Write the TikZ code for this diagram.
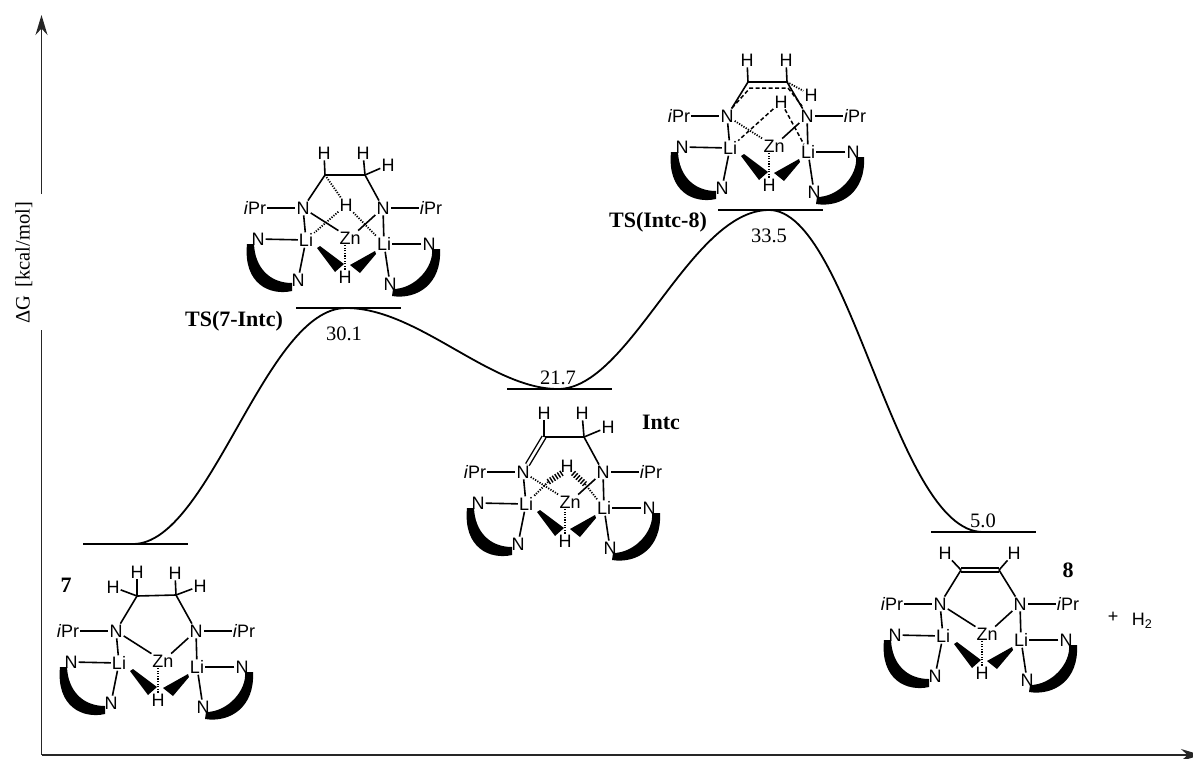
\documentclass[tikz,border=0pt]{standalone}
\usepackage{fontspec}
\setmainfont{Liberation Sans}
\newfontfamily\labelfont{Liberation Serif}
\usepackage{tikz}
\usetikzlibrary{arrows.meta}
\tikzset{
  atom/.style={font=\fontsize{18}{18}\selectfont, inner sep=1pt},
  energy/.style={font=\labelfont\fontsize{20.5}{20.5}\selectfont, inner sep=0pt},
  tag/.style={font=\labelfont\bfseries\fontsize{22}{22}\selectfont, inner sep=0pt},
  bond/.style={line width=1.6pt},
  dblbond/.style={line width=1.4pt, double, double distance=2.6pt},
  hbond/.style={line width=1.8pt, dash pattern=on 1.2pt off 1.4pt},
  dashb/.style={line width=1.5pt, dash pattern=on 4pt off 2.5pt},
  hashb/.style={line width=6pt, dash pattern=on 1.4pt off 1.6pt},
  levelbar/.style={draw=none, fill=black, minimum width=105pt, minimum height=1.6pt, inner sep=0pt},
  profile/.style={line width=1.8pt},
  axisline/.style={line width=1.6pt, color=black!85},
  axistip/.style={-{Stealth[length=20pt, width=12pt]}},
}
% Zn core shared by all five structures, Zn at the local origin
\newcommand{\zncore}[1]{%
  \node[atom] (#1Zn) at (0,0) {Zn};
  \node[atom] (#1NL) at (-47,-30) {N};
  \node[atom] (#1NR) at (33,-30) {N};
  \node[atom] (#1LiL) at (-44,2) {Li};
  \node[atom] (#1LiR) at (34,6) {Li};
  \node[atom] (#1NoL) at (-92,1) {N};
  \node[atom] (#1NuL) at (-52,42) {N};
  \node[atom] (#1NoR) at (79,6) {N};
  \node[atom] (#1NuR) at (40,46) {N};
  \node[atom] (#1Hb) at (-5,39) {H};
  \node[atom] (#1iL) at (-95,-30) {\textit{i}Pr};
  \node[atom] (#1iR) at (81,-30) {\textit{i}Pr};
  \draw[bond] (#1iL) -- (#1NL);
  \draw[bond] (#1iR) -- (#1NR);
  \draw[bond] (#1NL) -- (#1LiL);
  \draw[bond] (#1NR) -- (#1LiR);
  \draw[bond] (#1NoL) -- (#1LiL);
  \draw[bond] (#1NuL) -- (#1LiL);
  \draw[bond] (#1NoR) -- (#1LiR);
  \draw[bond] (#1NuR) -- (#1LiR);
  \draw[hbond] (#1Hb.north) -- (#1Hb.north |- #1Zn.south);
  \fill (-33,10) -- (-30,8) -- (-6,26) -- (-15,34) -- cycle;
  \fill (25,13) -- (26,16) -- (10,35) -- (0,27) -- cycle;
  \fill (-103,6) .. controls (-107,46) and (-80,58) .. (-58,53) -- (-58,45) .. controls (-80,45) and (-95,30) .. (-96,6) -- cycle;
  \fill (42,58) .. controls (67,62) and (92,46) .. (90,11) -- (82,11) .. controls (84,29) and (65,51) .. (43,51) -- cycle;
}
\begin{document}
\begin{tikzpicture}[x=1pt, y=-1pt]
  \useasboundingbox (0,0) rectangle (1193,758);
  % axes
  \node[font=\labelfont\fontsize{20.5}{20.5}\selectfont, rotate=90, inner sep=0pt] (ylab) at (24,263) {ΔG\, [kcal/mol]};
  \coordinate (orig) at (41.5,755);
  \coordinate (ybrk) at (41.5,330);
  \coordinate (yres) at (41.5,194);
  \coordinate (ytop) at (41.5,15);
  \coordinate (xend) at (1201,755);
  \draw[axisline] (ybrk) -- (orig);
  \draw[axisline, axistip] (orig) -- (xend);
  \draw[axisline, axistip] (yres) -- (ytop);

  % levels and profile
  \node[levelbar] (lv7) at (135.5,544) {};
  \node[levelbar] (lvA) at (348.5,308) {};
  \node[levelbar] (lvI) at (559.5,389) {};
  \node[levelbar] (lvB) at (770.5,210) {};
  \node[levelbar] (lv8) at (983.5,532) {};
  \draw[profile] (133,544) .. controls +(77,0) and +(-81,0) .. (346,308)
    .. controls +(72,0) and +(-68,0) .. (558,389)
    .. controls +(72,0) and +(-79,0) .. (769,210)
    .. controls +(81,0) and +(-88,0) .. (983,532);
  \node[energy] (e1) at (344,334) {30.1};
  \node[energy] (e2) at (558,378) {21.7};
  \node[energy] (e3) at (769,236) {33.5};
  \node[energy] (e4) at (983,521) {5.0};
  \node[tag] (t1) at (234,321) {TS(7-Intc)};
  \node[tag] (t2) at (658,222) {TS(Intc-8)};
  \node[tag] (t3) at (661,422) {Intc};
  \node[tag] (t4) at (66,585) {7};
  \node[tag] (t5) at (1068,570) {8};
  \node[atom] (plus) at (1113,617) {+};
  \node[atom] (dihyd) at (1142,621) {H\textsubscript{2}};

  % 7
  \begin{scope}[shift={(163,661)}]
    \zncore{a}
    \coordinate (aCL) at (-26,-65);
    \coordinate (aCR) at (13,-66);
    \node[atom] (aH1) at (-26,-89) {H};
    \node[atom] (aH2) at (-50,-74) {H};
    \node[atom] (aH3) at (12,-88) {H};
    \node[atom] (aH4) at (37,-75) {H};
    \draw[bond] (aCL) -- (aCR);
    \draw[bond] (aNL) -- (aCL);
    \draw[bond] (aNR) -- (aCR);
    \draw[bond] (aCL) -- (aH1);
    \draw[bond] (aCL) -- (aH2);
    \draw[bond] (aCR) -- (aH3);
    \draw[bond] (aCR) -- (aH4);
    \draw[bond] (aNL) -- (aZn);
    \draw[bond] (aNR) -- (aZn);
  \end{scope}

  % TS(7-Intc)
  \begin{scope}[shift={(350,238)}]
    \zncore{b}
    \coordinate (bCL) at (-25,-63);
    \coordinate (bCR) at (15,-63);
    \node[atom] (bH1) at (-26,-85) {H};
    \node[atom] (bH3) at (13,-85) {H};
    \node[atom] (bH4) at (38,-73) {H};
    \node[atom] (bHm) at (-4,-33) {H};
    \draw[bond] (bCL) -- (bCR);
    \draw[bond] (bNL) -- (bCL);
    \draw[bond] (bNR) -- (bCR);
    \draw[bond] (bCL) -- (bH1);
    \draw[bond] (bCR) -- (bH3);
    \draw[bond] (bCR) -- (bH4);
    \draw[bond] (bNL) -- (bZn);
    \draw[bond] (bNR) -- (bZn);
    \draw[hbond] (bCL) -- (bHm);
    \draw[hbond] (bHm) -- (bLiL);
    \draw[hbond] (bHm) -- (bLiR);
  \end{scope}

  % Intc
  \begin{scope}[shift={(570,502)}]
    \zncore{c}
    \coordinate (cCL) at (-26,-65);
    \coordinate (cCR) at (14,-65);
    \node[atom] (cH1) at (-26,-89) {H};
    \node[atom] (cH3) at (12,-89) {H};
    \node[atom] (cH4) at (38,-75) {H};
    \node[atom] (cHm) at (-3,-36) {H};
    \coordinate (cSL) at (-8,-29);
    \coordinate (cTL) at (-22,-20);
    \coordinate (cSR) at (3,-29);
    \coordinate (cTR) at (15,-18);
    \draw[bond] (cCL) -- (cCR);
    \draw[dblbond] (cNL) -- (cCL);
    \draw[bond] (cNR) -- (cCR);
    \draw[bond] (cCL) -- (cH1);
    \draw[bond] (cCR) -- (cH3);
    \draw[bond] (cCR) -- (cH4);
    \draw[hbond] (cNL) -- (cZn);
    \draw[bond] (cNR) -- (cZn);
    \draw[hashb] (cSL) -- (cTL);
    \draw[hashb] (cSR) -- (cTR);
    \draw[hbond] (cTL) -- (cLiL);
    \draw[hbond] (cTR) -- (cLiR);
  \end{scope}

  % TS(Intc-8)
  \begin{scope}[shift={(774,146)}]
    \zncore{d}
    \coordinate (dCL) at (-26,-64);
    \coordinate (dCR) at (13,-64);
    \coordinate (dD1) at (-42,-38);
    \coordinate (dD2) at (-24,-58);
    \coordinate (dD3) at (14,-58);
    \coordinate (dD4) at (28,-40);
    \node[atom] (dH1) at (-27,-86) {H};
    \node[atom] (dH3) at (12,-86) {H};
    \node[atom] (dH4) at (37,-51) {H};
    \node[atom] (dHm) at (7,-44) {H};
    \draw[bond] (dCL) -- (dCR);
    \draw[bond] (dNL) -- (dCL);
    \draw[bond] (dNR) -- (dCR);
    \draw[dashb] (dD1) -- (dD2) -- (dD3) -- (dD4);
    \draw[bond] (dCL) -- (dH1);
    \draw[bond] (dCR) -- (dH3);
    \draw[hbond] (dCR) -- (dH4);
    \draw[hbond] (dNL) -- (dZn);
    \draw[bond] (dNR) -- (dZn);
    \draw[dashb] (dHm) -- (dLiL);
    \draw[dashb] (dHm) -- (dLiR);
  \end{scope}

  % 8
  \begin{scope}[shift={(987,634)}]
    \zncore{e}
    \coordinate (eCL) at (-26,-64);
    \coordinate (eCR) at (12,-64);
    \node[atom] (eH1) at (-42,-81) {H};
    \node[atom] (eH3) at (27,-81) {H};
    \draw[dblbond] (eCL) -- (eCR);
    \draw[bond] (eNL) -- (eCL);
    \draw[bond] (eNR) -- (eCR);
    \draw[bond] (eCL) -- (eH1);
    \draw[bond] (eCR) -- (eH3);
    \draw[bond] (eNL) -- (eZn);
    \draw[bond] (eNR) -- (eZn);
  \end{scope}
\end{tikzpicture}
\end{document}
